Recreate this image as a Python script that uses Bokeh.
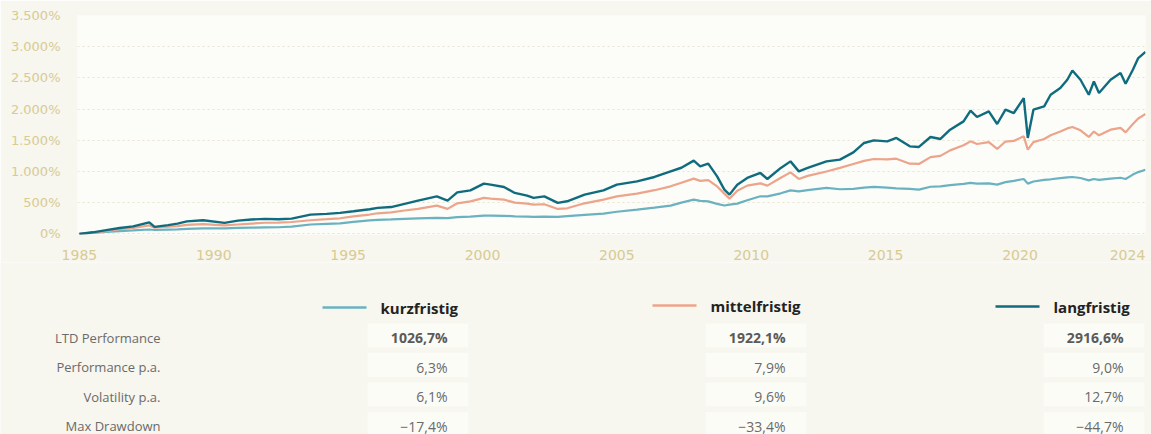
from bokeh.plotting import figure
from bokeh.models import Range1d, FixedTicker, ColumnDataSource
from bokeh.core.properties import value
from bokeh.embed import file_html
from bokeh.resources import INLINE

# ---------------- data ----------------
years = [1985.0, 1985.5, 1986.0, 1986.5, 1987.0, 1987.6, 1987.8, 1988.3, 1988.65, 1989.0,
         1989.6, 1990.4, 1990.9, 1991.4, 1991.9, 1992.4, 1992.9, 1993.6, 1994.2, 1994.7,
         1995.2, 1995.8, 1996.1, 1996.6, 1997.1, 1997.6, 1998.3, 1998.7, 1999.06, 1999.55,
         2000.05, 2000.3, 2000.8, 2001.2, 2001.66, 2001.9, 2002.3, 2002.8, 2003.15, 2003.8,
         2004.5, 2005.0, 2005.75, 2006.4, 2007.0, 2007.4, 2007.86, 2008.1, 2008.4, 2008.73,
         2009.0, 2009.19, 2009.48, 2009.85, 2010.34, 2010.6, 2011.1, 2011.46, 2011.77, 2012.1,
         2012.8, 2013.3, 2013.8, 2014.2, 2014.56, 2015.06, 2015.4, 2015.9, 2016.24, 2016.67,
         2017.04, 2017.4, 2017.9, 2018.16, 2018.4, 2018.84, 2019.15, 2019.46, 2019.77, 2020.14,
         2020.29, 2020.5, 2020.9, 2021.14, 2021.5, 2021.76, 2021.95, 2022.25, 2022.56, 2022.75,
         2022.94, 2023.37, 2023.74, 2023.93, 2024.2, 2024.4, 2024.67]

langfristig = [0, 25, 60, 95, 120, 185, 112, 140, 165, 200,
               218, 176, 213, 230, 240, 235, 245, 309, 320, 336,
               362, 395, 416, 430, 480, 533, 602, 533, 666, 698,
               805, 789, 752, 656, 613, 576, 602, 496, 522, 629,
               698, 789, 842, 912, 1002, 1060, 1174, 1082, 1125, 922,
               709, 629, 789, 896, 976, 880, 1057, 1162, 1002, 1057,
               1162, 1190, 1306, 1457, 1499, 1483, 1537, 1403, 1393, 1553,
               1521, 1670, 1803, 1974, 1873, 1963, 1761, 1990, 1937, 2177,
               1537, 1990, 2043, 2230, 2337, 2470, 2619, 2470, 2230, 2443,
               2257, 2470, 2577, 2406, 2630, 2818, 2917]

mittelfristig = [0, 20, 45, 75, 95, 135, 100, 115, 125, 145,
                 155, 135, 150, 165, 178, 180, 190, 218, 235, 250,
                 280, 310, 330, 345, 375, 400, 453, 400, 490, 520,
                 576, 565, 549, 500, 485, 469, 475, 400, 410, 490,
                 549, 602, 645, 700, 762, 820, 885, 850, 860, 760,
                 645, 565, 690, 773, 810, 773, 900, 986, 880, 930,
                 1000, 1057, 1120, 1170, 1200, 1195, 1205, 1125, 1121, 1230,
                 1250, 1338, 1420, 1483, 1440, 1470, 1361, 1480, 1490, 1563,
                 1350, 1470, 1521, 1580, 1640, 1690, 1713, 1660, 1553, 1640,
                 1580, 1670, 1700, 1627, 1760, 1850, 1922]

kurzfristig = [0, 15, 30, 45, 55, 70, 62, 68, 72, 80,
               88, 88, 95, 100, 105, 106, 115, 150, 160, 168,
               192, 215, 225, 232, 240, 248, 256, 252, 268, 278,
               293, 292, 290, 282, 278, 272, 275, 272, 285, 305,
               325, 355, 389, 420, 453, 500, 549, 530, 520, 480,
               455, 470, 485, 540, 602, 600, 650, 698, 680, 700,
               736, 715, 720, 740, 752, 740, 730, 720, 709, 755,
               762, 780, 800, 816, 805, 810, 789, 830, 850, 880,
               805, 840, 865, 875, 895, 905, 912, 895, 858, 880,
               865, 885, 900, 880, 950, 990, 1027]

series_names = ["kurzfristig", "mittelfristig", "langfristig"]
series_colors = ["#6ab2c0", "#eca48b", "#0f6c7f"]

x_ticks = [1985, 1990, 1995, 2000, 2005, 2010, 2015, 2020, 2024]
y_ticks = [0, 500, 1000, 1500, 2000, 2500, 3000, 3500]
y_tick_labels = ["0%", "500%", "1.000%", "1.500%", "2.000%", "2.500%", "3.000%", "3.500%"]

row_labels = ["LTD Performance", "Performance p.a.", "Volatility p.a.", "Max Drawdown"]
table_values = {
    "kurzfristig": ["1026,7%", "6,3%", "6,1%", "\u221217,4%"],
    "mittelfristig": ["1922,1%", "7,9%", "9,6%", "\u221233,4%"],
    "langfristig": ["2916,6%", "9,0%", "12,7%", "\u221244,7%"],
}

# ---------------- styles ----------------
PAGE_BG = "#f7f6ef"
PLOT_BG = "#fcfcf8"
CELL_BG = "#fcfcf7"
TICK_COLOR = "#d8cb92"
GRID_COLOR = "#e9e4cf"

# ---------------- chart ----------------
p = figure(width=1151, height=262, output_backend="svg", toolbar_location=None,
           x_range=Range1d(1984.93, 2024.67), y_range=Range1d(-10, 3500),
           min_border_left=77, min_border_right=6, min_border_top=15, min_border_bottom=27)
p.background_fill_color = PLOT_BG
p.border_fill_color = PAGE_BG
p.outline_line_color = None

p.xgrid.grid_line_color = None
p.ygrid.grid_line_color = GRID_COLOR
p.ygrid.grid_line_dash = "2 3"
p.ygrid.grid_line_width = 1

p.xaxis.ticker = FixedTicker(ticks=x_ticks)
p.yaxis.ticker = FixedTicker(ticks=y_ticks)
p.yaxis.major_label_overrides = {t: l for t, l in zip(y_ticks, y_tick_labels)}
for ax in (p.xaxis, p.yaxis):
    ax.axis_line_color = None
    ax.major_tick_line_color = None
    ax.minor_tick_line_color = None
    ax.major_label_text_color = TICK_COLOR
    ax.major_label_text_font = "DejaVu Sans"
p.xaxis.major_label_text_font_size = "14px"
p.yaxis.major_label_text_font_size = "13px"
p.xaxis.major_label_standoff = 9
p.yaxis.major_label_standoff = 11

src = ColumnDataSource(dict(x=years, k=kurzfristig, m=mittelfristig, l=langfristig))
p.line("x", "k", source=src, color=series_colors[0], line_width=2.2)
p.line("x", "m", source=src, color=series_colors[1], line_width=2.2)
p.line("x", "l", source=src, color=series_colors[2], line_width=2.4)

# ---------------- table (separate root, pixel coordinates) ----------------
t = figure(width=1151, height=172, output_backend="svg", toolbar_location=None,
           x_range=Range1d(0, 1151), y_range=Range1d(434, 262),
           x_axis_location=None, y_axis_location=None, min_border=0)
t.background_fill_color = PAGE_BG
t.border_fill_color = PAGE_BG
t.outline_line_color = None
t.grid.visible = False

col_value_right = [447, 785, 1123]
header_text_x = [380, 710, 1053]
header_y = [307, 305, 306]
row_y = [335, 364.5, 394, 423.5]

t.text(x=[160] * 4, y=[r + 2 for r in row_y], text=row_labels,
       text_align="right", text_baseline="middle", text_color="#6a6a6a",
       text_font=value("Open Sans"), text_font_size="13px")

for i, name in enumerate(series_names):
    xr = col_value_right[i]
    t.rect(x=[xr - 29.5] * 4, y=row_y, width=101, height=24,
           fill_color=CELL_BG, line_color=None)
    vals = table_values[name]
    t.text(x=[xr], y=[row_y[0] + 2], text=[vals[0]], text_align="right",
           text_baseline="middle", text_color="#5a5a5a", text_font_style="bold",
           text_font=value("Open Sans"), text_font_size="14px")
    t.text(x=[xr] * 3, y=[r + 2 for r in row_y[1:]], text=vals[1:], text_align="right",
           text_baseline="middle", text_color="#6a6a6a",
           text_font=value("Open Sans"), text_font_size="14px")
    hx = header_text_x[i]
    t.segment(x0=[hx - 58], y0=[header_y[i]], x1=[hx - 14], y1=[header_y[i]],
              line_color=series_colors[i], line_width=2.5)
    t.text(x=[hx], y=[header_y[i]], text=[name], text_align="left",
           text_baseline="middle", text_color="#222222", text_font_style="bold",
           text_font=value("Open Sans"), text_font_size="15px")

open("out.html", "w").write(file_html([p, t], INLINE))
